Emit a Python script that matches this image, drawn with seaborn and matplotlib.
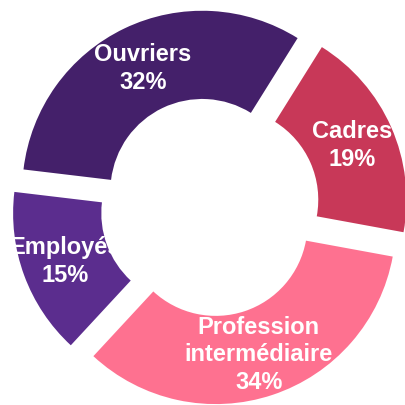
import matplotlib
matplotlib.use("Agg")
import matplotlib.pyplot as plt
import seaborn as sns

# Données
categories = ['Cadres', 'Profession\nintermédiaire', 'Employés', 'Ouvriers']
valeurs = [19, 34, 15, 32]
couleurs = ['#C83858', '#FE7190', '#5B2D8E', '#44206A']

sns.set_theme(style='white')
plt.rcParams['font.family'] = ['Liberation Sans', 'DejaVu Sans']

fig = plt.figure(figsize=(4.05, 4.06), dpi=100)
ax = fig.add_axes([0, 0, 1, 1])

labels = [f"{c}\n{v}%" for c, v in zip(categories, valeurs)]
wedges, textes = ax.pie(
    valeurs,
    labels=labels,
    colors=couleurs,
    startangle=58,
    counterclock=False,
    explode=[0.1] * len(valeurs),
    labeldistance=0.76,
    wedgeprops=dict(width=0.49, linewidth=0),
)
for t in textes:
    t.set_horizontalalignment('center')
    t.set_verticalalignment('center')
    t.set_color('white')
    t.set_fontweight('bold')
    t.set_fontsize(17)
    t.set_linespacing(1.25)

ax.set_xlim(-210 / 180, 195 / 180)
ax.set_ylim(-198 / 180, 208 / 180)
ax.set_aspect('equal')
ax.axis('off')

fig.savefig('out.png', dpi=100)
